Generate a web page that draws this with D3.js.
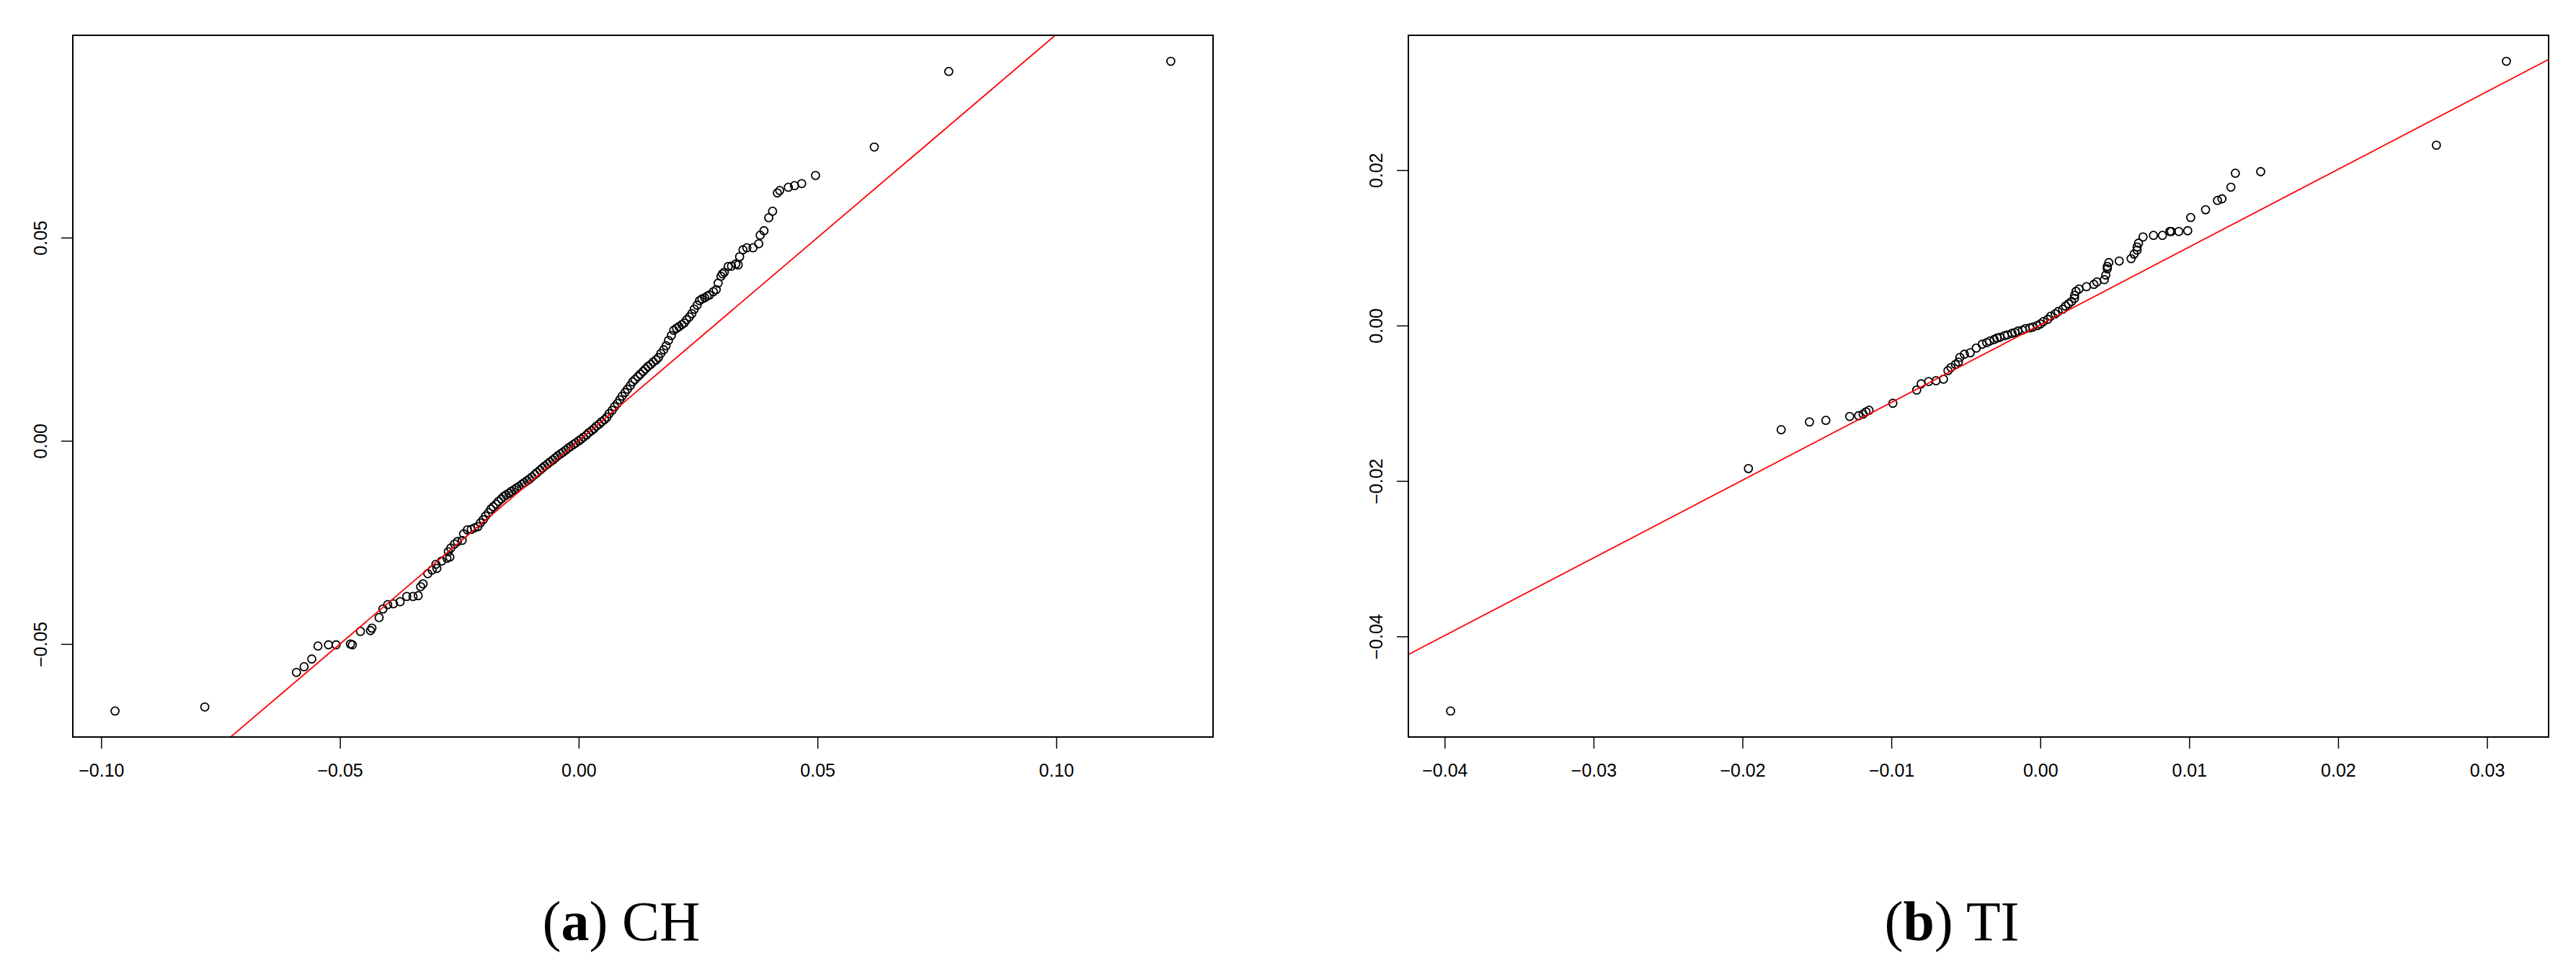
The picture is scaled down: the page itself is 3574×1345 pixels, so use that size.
<!DOCTYPE html>
<html>
<head>
<meta charset="utf-8">
<script src="https://cdn.jsdelivr.net/npm/d3@7/dist/d3.min.js"></script>
<style>
  body { margin: 0; background: #fff; }
</style>
</head>
<body>
<div id="chart"></div>
<script>
// ---- data ----
var chX = [-0.0971,-0.0783,-0.0591,-0.0575,-0.0559,-0.0546,-0.0524,-0.0508,-0.0478,-0.0474,
  -0.0457,-0.0436,-0.0433,-0.0418,-0.0410,-0.0400,-0.0388,-0.0374,-0.0360,-0.0347,
  -0.0336,-0.0331,-0.0326,-0.0316,-0.0307,-0.0299,-0.0297,-0.0287,-0.0276,-0.0270,
  -0.0273,-0.0268,-0.0260,-0.0254,-0.0244,-0.0241,-0.0233,-0.0225,-0.0218,
  -0.0211,-0.0206,-0.0200,-0.0195,-0.0189,-0.0184,-0.0179,-0.0173,-0.0168,-0.0162,
  -0.0157,-0.0152,-0.0146,-0.0141,-0.0135,-0.0130,-0.0125,-0.0119,-0.0114,-0.0108,
  -0.0103,-0.0098,-0.0092,-0.0087,-0.0081,-0.0076,-0.0071,-0.0065,-0.0060,-0.0054,
  -0.0049,-0.0044,-0.0038,-0.0033,-0.0027,-0.0022,-0.0017,-0.0011,-0.0006,0.0000,
  0.0005,0.0010,0.0016,0.0021,0.0027,0.0032,0.0037,0.0043,0.0048,0.0054,
  0.0059,0.0064,0.0070,0.0075,0.0081,0.0086,0.0091,0.0097,0.0102,0.0108,
  0.0113,0.0118,0.0124,0.0129,0.0135,0.0140,0.0145,0.0151,0.0156,0.0162,
  0.0167,0.0172,0.0178,0.0183,0.0188,0.0194,0.0199,0.0205,0.0210,0.0216,
  0.0221,0.0226,0.0232,0.0237,0.0242,0.0248,0.0253,0.0258,0.0264,0.0269,0.0274,
  0.0282,0.0288,0.0292,0.0298,0.0301,0.0305,0.0313,0.0320,0.0329,0.0334,
  0.0337,0.0344,0.0352,0.0365,0.0377,0.0380,0.0388,0.0398,0.0406,0.0416,
  0.0421,0.0439,0.0452,0.0467,0.0496,0.0619,0.0775,0.1240];
var chY = [-0.0665,-0.0655,-0.0570,-0.0556,-0.0537,-0.0505,-0.0502,-0.0502,-0.0500,-0.0502,
  -0.0469,-0.0467,-0.0461,-0.0435,-0.0414,-0.0403,-0.0401,-0.0396,-0.0383,-0.0383,
  -0.0381,-0.0359,-0.0352,-0.0327,-0.0318,-0.0304,-0.0314,-0.0296,-0.0289,-0.0286,
  -0.0273,-0.0264,-0.0254,-0.0248,-0.0245,-0.0229,-0.0219,-0.0218,-0.0214,
  -0.0211,-0.0202,-0.0194,-0.0185,-0.0177,-0.0168,-0.0162,-0.0156,-0.0149,-0.0143,
  -0.0137,-0.0133,-0.0129,-0.0124,-0.0120,-0.0116,-0.0112,-0.0107,-0.0103,-0.0098,
  -0.0094,-0.0089,-0.0083,-0.0078,-0.0072,-0.0067,-0.0062,-0.0057,-0.0052,-0.0047,
  -0.0042,-0.0037,-0.0032,-0.0028,-0.0023,-0.0018,-0.0014,-0.0009,-0.0005,0.0000,
  0.0004,0.0009,0.0014,0.0020,0.0025,0.0030,0.0036,0.0041,0.0047,0.0052,
  0.0058,0.0067,0.0075,0.0084,0.0092,0.0101,0.0110,0.0119,0.0127,0.0136,
  0.0145,0.0151,0.0158,0.0164,0.0171,0.0177,0.0183,0.0188,0.0194,0.0199,
  0.0205,0.0215,0.0224,0.0234,0.0247,0.0259,0.0272,0.0277,0.0281,0.0286,
  0.0290,0.0298,0.0305,0.0313,0.0324,0.0334,0.0345,0.0349,0.0352,0.0356,0.0359,
  0.0367,0.0372,0.0388,0.0405,0.0411,0.0415,0.0429,0.0430,0.0435,0.0433,
  0.0453,0.0470,0.0475,0.0475,0.0485,0.0506,0.0517,0.0549,0.0565,0.0610,
  0.0616,0.0624,0.0628,0.0633,0.0653,0.0723,0.0909,0.0934];

var tiX = [-0.0396,-0.0196,-0.0174,-0.0155,-0.0144,-0.0128,-0.0122,-0.0119,-0.0117,-0.0115,
  -0.0099,-0.0083,-0.0080,-0.0075,-0.0070,-0.0065,-0.0062,-0.0060,-0.0057,-0.0055,
  -0.0054,-0.0051,-0.0047,-0.0043,-0.0039,-0.0036,-0.0034,-0.0031,-0.0029,-0.0027,
  -0.0024,-0.0022,-0.0019,-0.0017,-0.0015,-0.0012,-0.0010,-0.0007,-0.0005,-0.0002,
  0.0000,0.0002,0.0005,0.0007,0.0010,0.0012,0.0015,0.0017,0.0019,0.0021,
  0.0023,0.0023,0.0024,0.0026,0.0031,0.0036,0.0038,0.0043,0.0044,0.0045,
  0.0045,0.0046,0.0053,0.0061,0.0063,0.0065,0.0065,0.0066,0.0069,0.0076,
  0.0082,0.0087,0.0088,0.0093,0.0099,0.0101,0.0111,0.0119,0.0122,0.0128,
  0.0131,0.0148,0.0266,0.0313];
var tiY = [-0.0496,-0.0184,-0.0134,-0.0124,-0.0122,-0.0117,-0.0116,-0.0114,-0.0111,-0.0109,
  -0.0100,-0.0083,-0.0075,-0.0072,-0.0071,-0.0069,-0.0058,-0.0054,-0.0050,-0.0047,
  -0.0041,-0.0037,-0.0035,-0.0029,-0.0024,-0.0022,-0.0020,-0.0018,-0.0016,-0.0015,
  -0.0013,-0.0012,-0.0010,-0.0009,-0.0007,-0.0006,-0.0004,-0.0003,-0.0002,0.0000,
  0.0002,0.0005,0.0008,0.0012,0.0015,0.0018,0.0021,0.0025,0.0028,0.0031,
  0.0035,0.0039,0.0044,0.0047,0.0050,0.0053,0.0056,0.0059,0.0065,0.0073,
  0.0076,0.0081,0.0083,0.0086,0.0092,0.0097,0.0101,0.0106,0.0114,0.0116,
  0.0116,0.0121,0.0121,0.0121,0.0122,0.0139,0.0149,0.0161,0.0163,0.0178,
  0.0196,0.0198,0.0232,0.0340];

// reference lines: [slope, intercept]
var chLine = [1.0, 0.0];
var tiLine = [1.0, 0.0001];

// tick labels
var chTicksX = [-0.10, -0.05, 0.00, 0.05, 0.10];
var chTicksY = [-0.05, 0.00, 0.05];
var tiTicksX = [-0.04, -0.03, -0.02, -0.01, 0.00, 0.01, 0.02, 0.03];
var tiTicksY = [-0.04, -0.02, 0.00, 0.02];

var captions = [["a", "CH"], ["b", "TI"]];

// ---- drawing ----
var width = 3574, height = 1345;
var svg = d3.select("#chart").append("svg")
  .attr("width", width)
  .attr("height", height)
  .style("background", "#fff");

var plotTop = 49, plotBottom = 1023;
var labelFont = "'Liberation Sans', Arial, Helvetica, sans-serif";

// R style range: data extent padded by 4% on each side
function padded(vals) {
  var e = d3.extent(vals), p = (e[1] - e[0]) * 0.04;
  return [e[0] - p, e[1] + p];
}

function drawPanel(id, left, right, xs, ys, line, ticksX, ticksY, cap, capX) {
  var x = d3.scaleLinear().domain(padded(xs)).range([left, right]);
  var y = d3.scaleLinear().domain(padded(ys)).range([plotBottom, plotTop]);
  var fmt = d3.format(".2f");

  svg.append("clipPath").attr("id", "clip-" + id)
    .append("rect")
      .attr("x", left).attr("y", plotTop)
      .attr("width", right - left).attr("height", plotBottom - plotTop);

  // points
  var pts = xs.map(function(d, i) { return [d, ys[i]]; });
  svg.append("g")
    .selectAll("circle")
    .data(pts)
    .enter().append("circle")
      .attr("cx", function(d) { return x(d[0]); })
      .attr("cy", function(d) { return y(d[1]); })
      .attr("r", 5.5)
      .attr("fill", "none")
      .attr("stroke", "#000")
      .attr("stroke-width", 1.8);

  // reference line
  var xd = x.domain();
  svg.append("line")
    .attr("clip-path", "url(#clip-" + id + ")")
    .attr("x1", x(xd[0])).attr("y1", y(line[0] * xd[0] + line[1]))
    .attr("x2", x(xd[1])).attr("y2", y(line[0] * xd[1] + line[1]))
    .attr("stroke", "#ff0000")
    .attr("stroke-width", 1.8);

  // x axis
  var gx = svg.append("g")
    .attr("transform", "translate(0," + plotBottom + ")")
    .call(d3.axisBottom(x).tickValues(ticksX).tickSize(16).tickPadding(21).tickFormat(fmt));
  gx.select(".domain").remove();
  gx.attr("font-size", 25).attr("font-family", labelFont);
  gx.selectAll("line").attr("stroke-width", 1.5);

  // y axis, labels turned parallel to the axis
  var gy = svg.append("g")
    .attr("transform", "translate(" + left + ",0)")
    .call(d3.axisLeft(y).tickValues(ticksY).tickSize(16).tickFormat(fmt));
  gy.select(".domain").remove();
  gy.attr("font-size", 25).attr("font-family", labelFont);
  gy.selectAll("line").attr("stroke-width", 1.5);
  gy.selectAll("text")
    .attr("x", 0).attr("y", -36).attr("dy", null)
    .attr("transform", "rotate(-90)")
    .attr("text-anchor", "middle");

  // frame
  svg.append("rect")
    .attr("x", left).attr("y", plotTop)
    .attr("width", right - left).attr("height", plotBottom - plotTop)
    .attr("fill", "none")
    .attr("stroke", "#000")
    .attr("stroke-width", 2);

  // caption
  var t = svg.append("text")
    .attr("x", capX).attr("y", 1305)
    .attr("text-anchor", "middle")
    .attr("font-family", "'Liberation Serif', 'Times New Roman', serif")
    .attr("font-size", 78);
  t.append("tspan").text("(");
  t.append("tspan").attr("font-weight", "bold").text(cap[0]);
  t.append("tspan").text(") " + cap[1]);
}

drawPanel("ch", 101, 1683, chX, chY, chLine, chTicksX, chTicksY, captions[0], 862);
drawPanel("ti", 1954, 3536, tiX, tiY, tiLine, tiTicksX, tiTicksY, captions[1], 2708);
</script>
</body>
</html>
